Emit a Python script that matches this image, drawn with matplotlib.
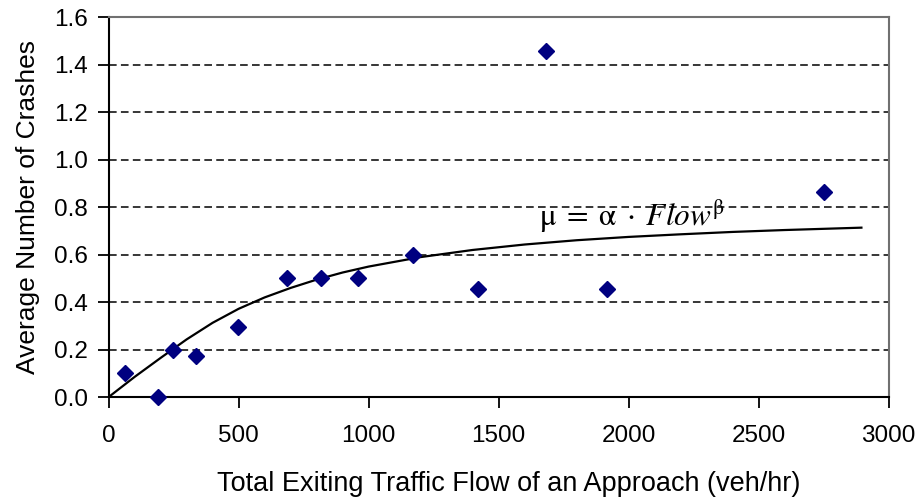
import numpy as np
import matplotlib
matplotlib.use("Agg")
import matplotlib.pyplot as plt

plt.rcParams['font.family'] = ['Liberation Sans', 'DejaVu Sans']
plt.rcParams['mathtext.fontset'] = 'stix'

# observed points (flow, average crashes)
flow = [65, 189, 247, 335, 497, 686, 817, 960, 1172, 1419, 1681, 1916, 2752]
crashes = [0.10, 0.00, 0.20, 0.175, 0.295, 0.50, 0.50, 0.50, 0.60, 0.455, 1.457, 0.455, 0.863]

# fitted curve
curve_x = [0, 100, 200, 300, 400, 500, 600, 700, 800, 900, 1000, 1200, 1400,
           1600, 1800, 2000, 2200, 2400, 2600, 2895]
curve_y = [0, 0.085, 0.165, 0.243, 0.313, 0.372, 0.42, 0.46, 0.495, 0.525, 0.55, 0.59, 0.62,
           0.643, 0.661, 0.675, 0.686, 0.696, 0.704, 0.714]

fig = plt.figure(figsize=(9.2, 4.97), dpi=100)
ax = fig.add_axes([0.118, 0.201, 0.848, 0.764])

ax.plot(curve_x, curve_y, color='black', linewidth=1.6, zorder=3)
ax.plot(flow, crashes, 'D', color='#000080', markersize=8.5, linestyle='none', zorder=4, clip_on=False)

ax.set_xlim(0, 3000)
ax.set_ylim(0, 1.6)
ax.set_xticks(np.arange(0, 3001, 500))
ax.set_yticks(np.arange(0, 1.61, 0.2))
ax.set_yticklabels([f'{v:.1f}' for v in np.arange(0, 1.61, 0.2)])

for y in np.arange(0.2, 1.41, 0.2):
    ax.axhline(y, color='black', linestyle=(0, (5, 2.8)), linewidth=1.1, zorder=1)

for side in ['left', 'bottom']:
    ax.spines[side].set_color('black')
    ax.spines[side].set_linewidth(1.5)
for side in ['top', 'right']:
    ax.spines[side].set_color('#707070')
    ax.spines[side].set_linewidth(1.5)

ax.tick_params(axis='both', direction='out', length=8, width=1.3, labelsize=17.5, colors='black')
ax.tick_params(axis='x', pad=12)
ax.tick_params(axis='y', pad=7)

ax.set_xlabel('Total Exiting Traffic Flow of an Approach (veh/hr)', fontsize=19.5)
ax.xaxis.set_label_coords(0.513, -0.195)
ax.set_ylabel('Average Number of Crashes', fontsize=19, labelpad=10)

ax.text(1654, 0.724, r'$\mathrm{\mu} \;=\; \mathrm{\alpha} \;\cdot\; \mathit{Flow}^{\mathrm{\beta}}$',
        fontsize=22.5, color='black', ha='left', va='baseline')

fig.savefig('out.png', dpi=100)
